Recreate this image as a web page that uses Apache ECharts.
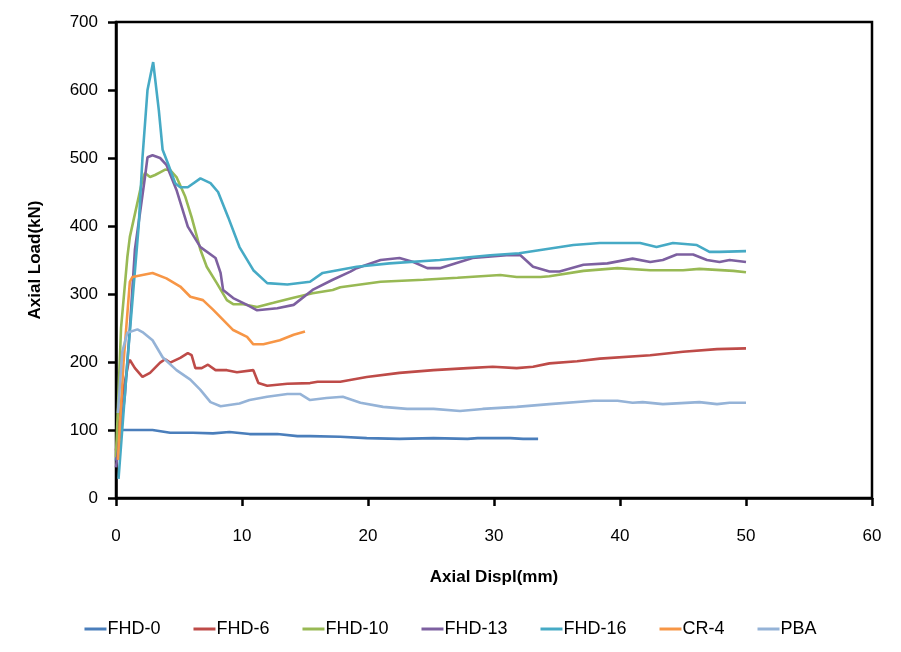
<!DOCTYPE html>
<html>
<head>
<meta charset="utf-8">
<script src="https://cdn.jsdelivr.net/npm/echarts@6/dist/echarts.min.js"></script>
<style>
html,body{margin:0;padding:0;background:#fff;}
#chart{width:901px;height:652px;}
</style>
</head>
<body>
<div id="chart"></div>
<script>
var seriesNames = ['FHD-0','FHD-6','FHD-10','FHD-13','FHD-16','CR-4','PBA'];
var xTicks = [0,10,20,30,40,50,60];
var yTicks = [0,100,200,300,400,500,600,700];

var fhd0 = [[0,55],[0.2,92],[0.5,100],[1.5,100],[2.9,100],[4.3,96],[6.1,96],[7.7,95],[9.0,97],[10.6,94],[12.8,94],[14.4,91],[15.4,91],[17.8,90],[19.9,88],[22.5,87],[25.2,88],[27.9,87],[28.7,88],[31.3,88],[32.3,87],[33.5,87]];
var fhd6 = [[0,70],[0.5,150],[1.0,200],[1.1,203],[1.5,191],[2.1,178],[2.7,184],[3.5,199],[3.9,204],[4.3,199],[5.1,206],[5.7,213],[6.0,210],[6.3,191],[6.8,191],[7.3,196],[7.9,188],[8.8,188],[9.6,185],[10.9,188],[11.3,169],[12.0,165],[13.6,168],[15.4,169],[16.0,171],[17.8,171],[19.9,178],[22.5,184],[25.2,188],[27.9,191],[29.9,193],[31.8,191],[33.1,193],[34.4,198],[36.6,201],[38.4,205],[42.4,210],[45.0,215],[47.7,219],[50,220]];
var fhd10 = [[0,60],[0.4,250],[0.9,354],[1.1,384],[2.1,468],[2.3,478],[2.7,472],[3.1,475],[3.5,479],[3.9,483],[4.3,482],[4.8,472],[5.5,443],[6.0,413],[6.5,379],[6.7,365],[7.2,340],[8.0,316],[8.8,291],[9.3,285],[10.1,285],[11.2,281],[12.5,287],[14.0,294],[15.6,301],[17.2,306],[17.8,310],[21.0,318],[24.4,321],[27.1,324],[30.5,328],[31.8,325],[33.7,325],[34.4,326],[37.1,334],[39.8,338],[42.4,335],[45.0,335],[46.3,337],[49.0,334],[50,332]];
var fhd13 = [[0,45],[0.7,150],[1.1,250],[1.5,365],[2.3,472],[2.5,501],[2.9,504],[3.5,500],[4.0,490],[4.8,453],[5.7,399],[6.7,369],[7.9,353],[8.3,331],[8.5,306],[9.3,294],[10.4,284],[11.2,276],[12.8,279],[14.1,284],[15.6,306],[17.2,321],[18.6,333],[19.1,338],[21.0,350],[22.5,353],[23.6,347],[24.7,338],[25.7,338],[28.3,353],[31.0,357],[32.1,357],[33.1,340],[34.4,333],[35.2,333],[37.1,343],[39.0,345],[41.0,352],[42.4,347],[43.4,350],[44.5,358],[45.8,358],[46.9,350],[47.9,347],[48.7,350],[50,347]];
var fhd16 = [[0.2,28],[0.9,200],[1.35,300],[1.8,400],[2.1,500],[2.5,600],[2.95,641],[3.4,570],[3.7,512],[4.1,493],[4.7,463],[5.1,457],[5.7,457],[6.7,470],[7.5,463],[8.1,450],[8.9,413],[9.8,369],[10.9,335],[12.0,316],[13.6,314],[15.4,318],[16.4,331],[19.1,340],[21.7,345],[25.7,350],[29.7,357],[32,360],[36.3,372],[38.4,375],[41.6,375],[42.9,369],[44.2,375],[46.1,372],[47.1,362],[47.9,362],[50,363]];
var cr4 = [[0.15,56],[0.6,200],[1.1,318],[1.3,325],[2.1,328],[2.9,331],[4.0,323],[5.1,311],[5.9,296],[6.9,291],[7.7,277],[8.5,262],[9.3,247],[10.4,237],[10.9,226],[11.7,226],[13.0,232],[14.1,240],[15.0,245]];
var pba = [[0.15,125],[0.5,215],[0.9,243],[1.7,248],[2.1,244],[2.9,232],[3.7,207],[4.8,188],[5.9,174],[6.7,159],[7.5,141],[8.3,135],[9.8,139],[10.6,144],[12.0,149],[13.6,153],[14.6,153],[15.4,144],[16.7,147],[18.0,149],[19.4,140],[21.2,134],[23.1,131],[25.2,131],[27.3,128],[29.1,131],[31.8,134],[34.4,138],[37.9,143],[39.8,143],[41.0,140],[41.8,141],[43.4,138],[46.3,141],[47.7,138],[48.7,140],[50,140]];

var seriesData = [fhd0, fhd6, fhd10, fhd13, fhd16, cr4, pba];
var colors = ['#4a7ebb','#be4b48','#98b954','#7d60a0','#46aac5','#f79646','#95b3d7'];
var FONT = 'Liberation Sans';

var chart = echarts.init(document.getElementById('chart'), null, {renderer:'canvas'});
chart.setOption({
  animation: false,
  backgroundColor: '#fff',
  color: colors,
  grid: {left:116, right:29, top:22, bottom:154, show:true, borderColor:'#000', borderWidth:2.5, backgroundColor:'transparent'},
  legend: {
    top: 615, left: 'center', icon: 'rect', itemWidth: 22, itemHeight: 3, itemGap: 33,
    textStyle: {fontFamily: FONT, fontSize: 18, color:'#000', padding:[0,0,0,-4]},
    data: seriesNames
  },
  xAxis: {
    type:'value', min: xTicks[0], max: xTicks[xTicks.length-1], interval: 10,
    name: 'Axial Displ(mm)', nameLocation:'middle', nameGap: 71,
    nameTextStyle:{fontFamily:FONT, fontSize:17, fontWeight:'bold', color:'#000'},
    axisLine:{show:true, onZero:false, lineStyle:{color:'#000', width:2.5}},
    axisTick:{show:true, length:8, lineStyle:{color:'#000', width:2.5}},
    axisLabel:{fontFamily:FONT, fontSize:17, color:'#000', margin:30},
    splitLine:{show:false}
  },
  yAxis: {
    type:'value', min: yTicks[0], max: yTicks[yTicks.length-1], interval: 100,
    name: 'Axial Load(kN)', nameLocation:'middle', nameGap: 72, nameRotate: 90,
    nameTextStyle:{fontFamily:FONT, fontSize:17, fontWeight:'bold', color:'#000'},
    axisLine:{show:true, onZero:false, lineStyle:{color:'#000', width:2.5}},
    axisTick:{show:true, length:8, lineStyle:{color:'#000', width:2.5}},
    axisLabel:{fontFamily:FONT, fontSize:17, color:'#000', margin:18},
    splitLine:{show:false}
  },
  series: seriesNames.map(function(n, i){
    return {name:n, type:'line', data: seriesData[i], showSymbol:false, symbol:'none',
      lineStyle:{width:2.6, color: colors[i]}, itemStyle:{color: colors[i]}, smooth:false};
  })
});
</script>
</body>
</html>
